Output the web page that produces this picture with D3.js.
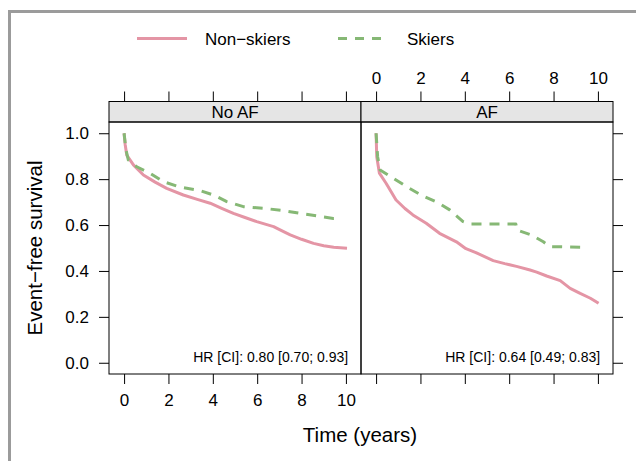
<!DOCTYPE html>
<html><head><meta charset="utf-8">
<script src="https://cdn.jsdelivr.net/npm/d3@7/dist/d3.min.js"></script>
<style>body{margin:0;background:#fff}svg{display:block}text{font-family:"Liberation Sans",Arial,Helvetica,sans-serif}</style>
</head><body>
<script>
const panels = ["No AF", "AF"];
const seriesNames = ["Non−skiers", "Skiers"];
const seriesColors = ["#E495A5", "#86B875"];
const hrLabels = ["HR [CI]: 0.80 [0.70; 0.93]", "HR [CI]: 0.64 [0.49; 0.83]"];
const xTicks = [0, 2, 4, 6, 8, 10];
const yTicks = [0.0, 0.2, 0.4, 0.6, 0.8, 1.0];

// [time, survival]
const noAF_nonSkiers = [[0,1.0],[0.05,0.95],[0.12,0.905],[0.42,0.862],[0.87,0.818],[1.4,0.787],[1.92,0.760],[2.67,0.731],[3.3,0.712],[3.88,0.695],[4.4,0.673],[4.93,0.651],[5.45,0.633],[5.98,0.615],[6.74,0.593],[7.1,0.576],[7.49,0.557],[8.0,0.538],[8.54,0.520],[9.0,0.510],[9.45,0.503],[10.05,0.499]];
const noAF_skiers = [[0,1.0],[0.08,0.93],[0.19,0.884],[0.57,0.854],[1.17,0.826],[1.77,0.789],[2.53,0.765],[3.43,0.750],[4.03,0.731],[4.63,0.702],[5.38,0.680],[6.28,0.673],[7.18,0.663],[7.93,0.651],[8.68,0.640],[9.43,0.629],[9.81,0.629]];
const af_nonSkiers = [[0,1.0],[0.03,0.898],[0.15,0.826],[0.45,0.782],[0.9,0.709],[1.3,0.672],[1.66,0.644],[2.26,0.608],[2.86,0.564],[3.62,0.527],[4.05,0.497],[4.5,0.480],[5.28,0.445],[5.8,0.432],[6.33,0.420],[6.94,0.404],[7.24,0.395],[7.69,0.378],[8.3,0.358],[8.75,0.324],[9.2,0.302],[9.66,0.281],[10.03,0.259]];
const af_skiers = [[0,1.0],[0.07,0.898],[0.18,0.840],[0.9,0.796],[1.5,0.760],[2.1,0.727],[2.78,0.698],[3.32,0.666],[3.92,0.615],[4.2,0.605],[6.3,0.605],[6.35,0.578],[7.0,0.557],[7.54,0.527],[7.84,0.506],[9.5,0.503]];

const panelSeries = [[noAF_nonSkiers, noAF_skiers], [af_nonSkiers, af_skiers]];

const W = 636, H = 461;
const svg = d3.select("body").append("svg").attr("width", W).attr("height", H);

// outer gray frame (cropped)
svg.append("path").attr("d", `M9.5,${H} L9.5,11.5 L${W},11.5`).attr("fill","none").attr("stroke","#9b9b9b").attr("stroke-width",3);

const panelLeft = [109, 361];
const panelW = 252;
const stripTop = 101.5, panelTop = 122, panelBottom = 374;

const y = d3.scaleLinear().domain([-0.049, 1.049]).range([panelBottom, panelTop]);
const xScales = panelLeft.map(l => d3.scaleLinear().domain([-0.68, 10.68]).range([l, l + panelW]));

const fontTick = 17;

panels.forEach((p, i) => {
  const x = xScales[i];
  const g = svg.append("g");
  // strip
  g.append("rect").attr("x", panelLeft[i]).attr("y", stripTop).attr("width", panelW).attr("height", panelTop - stripTop)
    .attr("fill", "#e5e5e5").attr("stroke", "#000").attr("stroke-width", 1);
  g.append("text").attr("x", panelLeft[i] + panelW/2).attr("y", (stripTop+panelTop)/2 + 6)
    .attr("text-anchor","middle").attr("font-size", 17).text(p);
  // panel
  g.append("rect").attr("x", panelLeft[i]).attr("y", panelTop).attr("width", panelW).attr("height", panelBottom - panelTop)
    .attr("fill", "none").attr("stroke", "#000").attr("stroke-width", 1);

  // bottom axis
  const bAx = d3.axisBottom(x).tickValues(xTicks).tickSize(10).tickPadding(10).tickFormat(i === 0 ? d3.format("d") : () => "");
  const bg = svg.append("g").attr("transform", `translate(0,${panelBottom})`).call(bAx);
  // top axis
  const tAx = d3.axisTop(x).tickValues(xTicks).tickSize(10).tickPadding(8).tickFormat(i === 1 ? d3.format("d") : () => "");
  const tg = svg.append("g").attr("transform", `translate(0,${stripTop})`).call(tAx);
  [bg, tg].forEach(a => {
    a.select(".domain").remove();
    a.selectAll("line").attr("stroke","#000");
    a.selectAll("text").attr("font-size", fontTick).attr("font-family", '"Liberation Sans",Arial,sans-serif').attr("fill","#000");
  });

  // curves
  const line = d3.line().x(d => x(d[0])).y(d => y(d[1]));
  panelSeries[i].forEach((s, k) => {
    svg.append("path").datum(s).attr("d", line).attr("fill","none")
      .attr("stroke", seriesColors[k]).attr("stroke-width", 3)
      .attr("stroke-dasharray", k === 1 ? "10,8" : null)
      .attr("stroke-linejoin","round");
  });

  // HR text
  svg.append("text").attr("x", x(10.1)).attr("y", 362).attr("text-anchor","end").attr("font-size", 14).text(hrLabels[i]);
});

// left axis
const lAx = d3.axisLeft(y).tickValues(yTicks).tickSize(10).tickPadding(10).tickFormat(d3.format(".1f"));
const lg = svg.append("g").attr("transform", `translate(${panelLeft[0]},0)`).call(lAx);
const rAx = d3.axisRight(y).tickValues(yTicks).tickSize(10).tickFormat(() => "");
const rg = svg.append("g").attr("transform", `translate(${panelLeft[1] + panelW},0)`).call(rAx);
[lg, rg].forEach(a => {
  a.select(".domain").remove();
  a.selectAll("line").attr("stroke","#000");
  a.selectAll("text").attr("font-size", fontTick).attr("font-family", '"Liberation Sans",Arial,sans-serif').attr("fill","#000");
});

// axis titles
svg.append("text").attr("x", 360).attr("y", 442).attr("text-anchor","middle").attr("font-size", 20.5).text("Time (years)");
svg.append("text").attr("transform", "translate(42,248) rotate(-90)").attr("text-anchor","middle").attr("font-size", 20.5).text("Event−free survival");

// legend
const legX = [[137, 187, 205], [338, 382, 407]];
seriesNames.forEach((n, k) => {
  svg.append("line").attr("x1", legX[k][0]).attr("x2", legX[k][1]).attr("y1", 38.5).attr("y2", 38.5)
    .attr("stroke", seriesColors[k]).attr("stroke-width", 3).attr("stroke-dasharray", k === 1 ? "9,8" : null);
  svg.append("text").attr("x", legX[k][2]).attr("y", 44.5).attr("font-size", 17).text(n);
});
</script>
</body></html>
